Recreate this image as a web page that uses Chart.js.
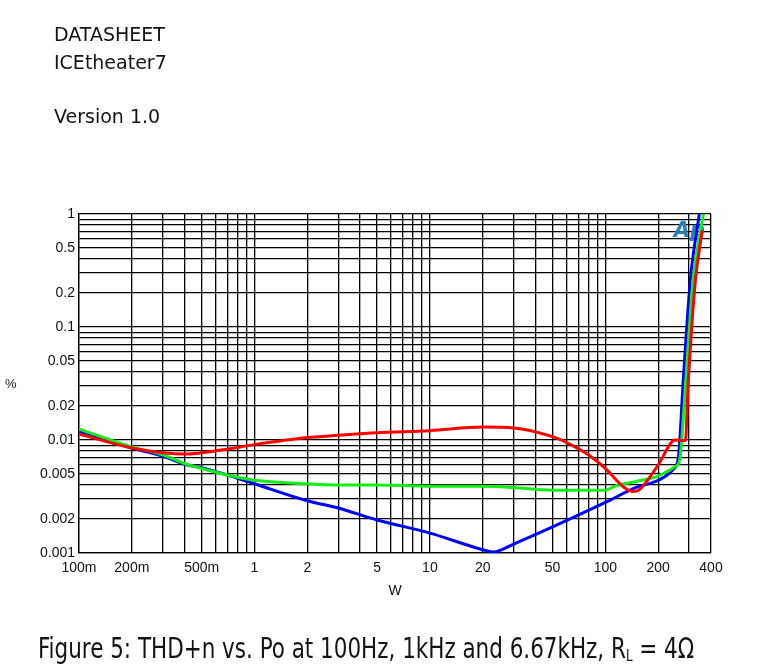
<!DOCTYPE html>
<html lang="en">
<head>
<meta charset="UTF-8">
<title>THD+n vs. Po</title>
<script src="https://cdn.jsdelivr.net/npm/chart.js"></script>
<style>
  body { margin: 0; background: #fff; font-family: 'DejaVu Sans', sans-serif; color: #141414; }
  .page { position: relative; width: 769px; height: 665px; overflow: hidden; }
  .head { position: absolute; left: 54px; font-size: 19px; line-height: 1; white-space: nowrap; }
  #pct { position: absolute; left: 5px; top: 376px; font: 13px 'Liberation Sans', sans-serif; }
  #caption { position: absolute; left: 38px; top: 634px; font-size: 29px; line-height: 1;
             font-family: 'DejaVu Sans Condensed', 'DejaVu Sans', sans-serif;
             white-space: nowrap; transform-origin: 0 0; }
  #caption sub { font-size: 0.55em; vertical-align: -0.2em; }
  canvas { position: absolute; left: 0; top: 0; }
</style>
</head>
<body>
<div class="page">
  <canvas id="thd" width="769" height="665"></canvas>
  <div class="head" style="top:25px">DATASHEET</div>
  <div class="head" style="top:53px">ICEtheater7</div>
  <div class="head" style="top:107px">Version 1.0</div>
  <div id="pct">%</div>
  <div id="caption">Figure 5: THD+n vs. Po at 100Hz, 1kHz and 6.67kHz, R<sub>L</sub> = 4&Omega;</div>
</div>

<script>
// output power (W) and THD+n (%)
const blueW    = [0.1, 0.2, 0.3, 0.4, 0.5, 0.7, 1, 2, 3, 5, 10, 20, 23, 30, 50, 100, 150, 200, 244, 261, 278, 305, 343];
const bluePct  = [0.0119, 0.0085, 0.0072, 0.0061, 0.0057, 0.0049, 0.0041, 0.0029, 0.0025, 0.00196, 0.0015, 0.00107, 0.00102, 0.0012, 0.0017, 0.0028, 0.0038, 0.0044, 0.0055, 0.0071, 0.034, 0.26, 1.0];

const greenW   = [0.1, 0.2, 0.3, 0.4, 0.5, 0.7, 1, 2, 3, 5, 10, 20, 30, 50, 100, 113, 150, 200, 250, 265, 286, 316, 362];
const greenPct = [0.0125, 0.0087, 0.0074, 0.0062, 0.0056, 0.0049, 0.0044, 0.0041, 0.0040, 0.0040, 0.0039, 0.0039, 0.0038, 0.0036, 0.0036, 0.0039, 0.0043, 0.0048, 0.0058, 0.0066, 0.03, 0.26, 1.0];

const redW     = [0.1, 0.2, 0.3, 0.4, 0.5, 0.7, 1, 2, 3, 5, 10, 20, 30, 50, 61, 80, 100, 128, 144, 155, 200, 250, 286, 296, 326, 357];
const redPct   = [0.0113, 0.0085, 0.0077, 0.0075, 0.0077, 0.0083, 0.0091, 0.0105, 0.011, 0.0116, 0.0121, 0.013, 0.0128, 0.0107, 0.0094, 0.0074, 0.0056, 0.0038, 0.0035, 0.0036, 0.006, 0.0100, 0.0099, 0.03, 0.26, 0.72];

// labelled ticks
const xTickValues = [0.1, 0.2, 0.5, 1, 2, 5, 10, 20, 50, 100, 200, 400];
const xTickLabels = ['100m', '200m', '500m', '1', '2', '5', '10', '20', '50', '100', '200', '400'];
const yTickValues = [1, 0.5, 0.2, 0.1, 0.05, 0.02, 0.01, 0.005, 0.002, 0.001];
const yTickLabels = ['1', '0.5', '0.2', '0.1', '0.05', '0.02', '0.01', '0.005', '0.002', '0.001'];

const X_MIN = 0.1, X_MAX = 400, Y_MIN = 0.001, Y_MAX = 1;

// 1..9 grid lines in every decade
function logGrid(min, max) {
    const out = [];
    for (let d = min; d < max * 1.0001; d *= 10) {
        for (let m = 1; m <= 9; m++) {
            const v = +(m * d).toPrecision(6);
            if (v <= max * 1.0001) out.push(v);
        }
    }
    return out;
}

function labelFor(values, labels, v) {
    const i = values.findIndex(t => Math.abs(Math.log10(t) - Math.log10(v)) < 1e-6);
    return i >= 0 ? labels[i] : '';
}

function pts(xs, ys) {
    return xs.map((x, i) => ({ x: x, y: ys[i] }));
}

const apLogo = {
    id: 'apLogo',
    beforeDatasetsDraw(chart) {
        const ctx = chart.ctx;
        const a = chart.chartArea;
        ctx.save();
        ctx.font = 'italic bold 21px "DejaVu Sans"';
        ctx.fillStyle = '#2a7db5';
        ctx.textAlign = 'right';
        ctx.textBaseline = 'middle';
        ctx.fillText('Ap', a.right - 6, a.top + 18);
        ctx.restore();
    }
};

const tickFont = { family: "'Liberation Sans', Arial, sans-serif", size: 14 };

new Chart(document.getElementById('thd').getContext('2d'), {
    type: 'line',
    data: {
        datasets: [
            { label: '6.67kHz', data: pts(redW, redPct), borderColor: '#ff0000' },
            { label: '1kHz', data: pts(greenW, greenPct), borderColor: '#11ee11' },
            { label: '100Hz', data: pts(blueW, bluePct), borderColor: '#0000ff' }
        ]
    },
    options: {
        responsive: false,
        animation: false,
        layout: { padding: { left: 0, top: 214, right: 58, bottom: 65 } },
        elements: {
            line: { borderWidth: 3, cubicInterpolationMode: 'monotone', fill: false },
            point: { radius: 0 }
        },
        plugins: { legend: { display: false }, tooltip: { enabled: false } },
        scales: {
            x: {
                type: 'logarithmic',
                min: X_MIN, max: X_MAX,
                afterBuildTicks: s => { s.ticks = logGrid(X_MIN, X_MAX).map(v => ({ value: v })); },
                afterFit: s => { s.height = 47; },
                grid: { color: '#000', lineWidth: 1.3, drawTicks: false },
                border: { display: true, color: '#000', width: 1.3 },
                ticks: {
                    autoSkip: false, maxRotation: 0, padding: 7, color: '#111', font: tickFont,
                    callback: v => labelFor(xTickValues, xTickLabels, v)
                },
                title: { display: true, text: 'W', color: '#111', padding: 0,
                         font: { family: "'Liberation Sans', Arial, sans-serif", size: 14 } }
            },
            y: {
                type: 'logarithmic',
                min: Y_MIN, max: Y_MAX,
                afterBuildTicks: s => { s.ticks = logGrid(Y_MIN, Y_MAX).map(v => ({ value: v })); },
                afterFit: s => { s.width = 79; },
                grid: { color: '#000', lineWidth: 1.3, drawTicks: false },
                border: { display: true, color: '#000', width: 1.3 },
                ticks: {
                    autoSkip: false, padding: 4, color: '#111', font: tickFont,
                    callback: v => labelFor(yTickValues, yTickLabels, v)
                }
            }
        }
    },
    plugins: [apLogo]
});

// squeeze caption to the width it has in the datasheet
const cap = document.getElementById('caption');
cap.style.transform = 'scaleX(' + (656 / cap.offsetWidth) + ')';
</script>
</body>
</html>
